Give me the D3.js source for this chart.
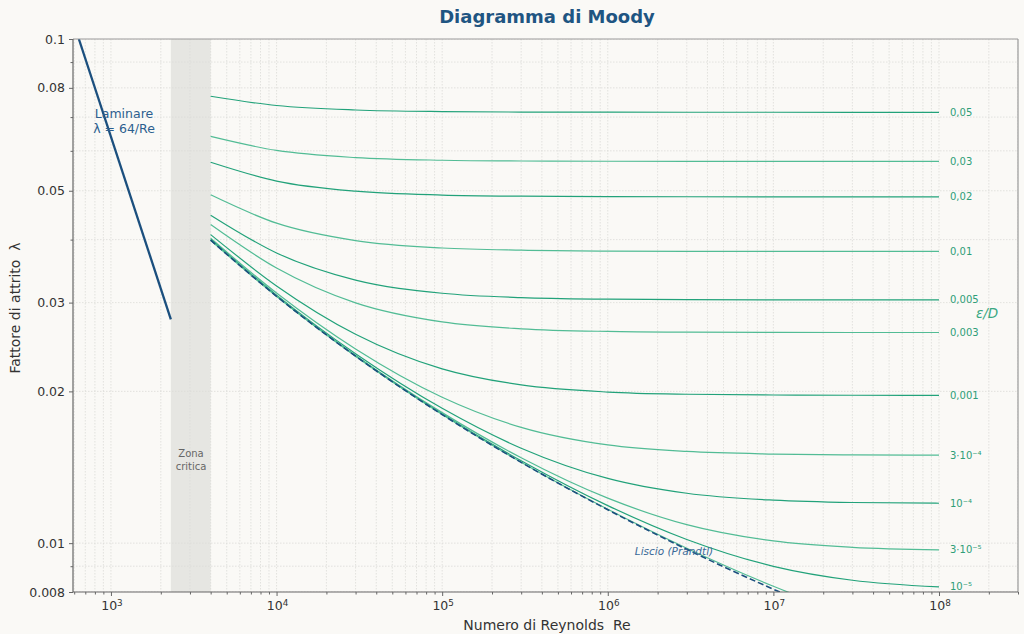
<!DOCTYPE html>
<html><head><meta charset="utf-8">
<script src="https://cdn.jsdelivr.net/npm/d3@7"></script>
<style>
body{margin:0;background:#faf9f6;}
svg{display:block;font-family:"DejaVu Sans",sans-serif;}
text{white-space:pre;}
</style></head>
<body><svg id="c" width="1024" height="634"></svg>
<script>
// ---------- data ----------
const reSamples = [4e3, 1e4, 3e4, 1e5, 3e5, 1e6, 3e6, 1e7, 3e7, 1e8];
const roughLabels = ["0,05","0,03","0,02","0,01","0,005","0,003","0,001","3·10⁻⁴","10⁻⁴","3·10⁻⁵","10⁻⁵",""];
const lam_0_05  = [0.07699,0.07380,0.07231,0.07178,0.07163,0.07158,0.07156,0.07156,0.07155,0.07155];
const lam_0_03  = [0.06408,0.06011,0.05818,0.05748,0.05728,0.05721,0.05718,0.05717,0.05717,0.05717];
const lam_0_02  = [0.05696,0.05227,0.04991,0.04903,0.04877,0.04868,0.04865,0.04864,0.04864,0.04864];
const lam_0_01  = [0.04908,0.04312,0.03982,0.03850,0.03811,0.03796,0.03792,0.03791,0.03790,0.03790];
const lam_0_005 = [0.04472,0.03763,0.03325,0.03131,0.03069,0.03047,0.03040,0.03038,0.03037,0.03037];
const lam_0_003 = [0.04286,0.03514,0.02997,0.02747,0.02662,0.02630,0.02621,0.02618,0.02617,0.02617];
const lam_0_001 = [0.04093,0.03238,0.02597,0.02217,0.02060,0.01994,0.01974,0.01967,0.01965,0.01964];
const lam_3e4   = [0.04025,0.03134,0.02427,0.01947,0.01697,0.01566,0.01520,0.01502,0.01496,0.01495];
const lam_1e4   = [0.04001,0.03104,0.02375,0.01851,0.01543,0.01344,0.01256,0.01217,0.01204,0.01200];
const lam_3e5   = [0.03995,0.03094,0.02357,0.01815,0.01477,0.01228,0.01088,0.01010,0.009811,0.009696];
const lam_1e5   = [0.03992,0.03090,0.02351,0.01804,0.01457,0.01187,0.01017,0.008996,0.008442,0.008187];
const lam_1e6   = [0.03989,0.03088,0.02349,0.01800,0.01447,0.01167,0.009769,0.008213,0.00718,0.00643];
const lamSmooth = [0.03989,0.03088,0.02349,0.01799,0.01446,0.01165,0.009721,0.008102,0.006948,0.00594];
const laminarRe = [640, 2300];
const laminarLam = [0.1, 0.0278];
const criticalZone = [2300, 4000];
const yTickLabels = [0.008, 0.01, 0.02, 0.03, 0.05, 0.08, 0.1];
const yTickText = ["0.008","0.01","0.02","0.03","0.05","0.08","0.1"];
const yMinorTicks = [0.009, 0.04, 0.06, 0.07, 0.09];
const xMajorTicks = [1e3, 1e4, 1e5, 1e6, 1e7, 1e8];
const xTickExp = ["3","4","5","6","7","8"];

const roughSeries = [lam_0_05,lam_0_03,lam_0_02,lam_0_01,lam_0_005,lam_0_003,lam_0_001,lam_3e4,lam_1e4,lam_3e5,lam_1e5,lam_1e6];

// ---------- layout ----------
const W=1024,H=634, L=73, R=1018, T=39, B=592;
const svg=d3.select("#c");
svg.append("rect").attr("width",W).attr("height",H).attr("fill","#faf9f6");
const x=d3.scaleLog().domain([590,3e8]).range([L,R]);
const y=d3.scaleLog().domain([0.008,0.1]).range([B,T]);

svg.append("defs").append("clipPath").attr("id","clip")
  .append("rect").attr("x",L).attr("y",T).attr("width",R-L).attr("height",B-T);

// critical zone
svg.append("rect").attr("x",x(criticalZone[0])).attr("y",T)
  .attr("width",x(criticalZone[1])-x(criticalZone[0])).attr("height",B-T)
  .attr("fill","#e6e6e2");

// grid
const xAll=[];
for(let e=2;e<=8;e++){for(let m=1;m<=9;m++){const v=m*Math.pow(10,e); if(v>=600&&v<=3e8) xAll.push(v);}}
const gGrid=svg.append("g").attr("clip-path","url(#clip)");
gGrid.selectAll(".gx").data(xAll).join("line")
  .attr("x1",d=>x(d)).attr("x2",d=>x(d)).attr("y1",T).attr("y2",B)
  .attr("stroke","#dcdcd8").attr("stroke-width",0.8).attr("stroke-dasharray","1.5,1.5");
gGrid.selectAll(".gy").data(yTickLabels.concat(yMinorTicks)).join("line")
  .attr("x1",L).attr("x2",R).attr("y1",d=>y(d)).attr("y2",d=>y(d))
  .attr("stroke","#dcdcd8").attr("stroke-width",0.8).attr("stroke-dasharray","1.5,1.5");

// axes
const xAxis=d3.axisBottom(x).tickValues(xMajorTicks).tickFormat("").tickSize(4);
const xMinor=d3.axisBottom(x).tickValues(xAll.filter(v=>!xMajorTicks.includes(v))).tickFormat("").tickSize(2.5);
const yAxis=d3.axisLeft(y).tickValues(yTickLabels).tickFormat((d,i)=>yTickText[i]).tickSize(4).tickPadding(4);
const yMinor=d3.axisLeft(y).tickValues(yMinorTicks).tickFormat("").tickSize(2.5);
function styleAxis(g){g.select(".domain").remove();g.selectAll("line").attr("stroke","#666");
  g.selectAll("text").attr("fill","#333").style("font-size","12.5px").style("font-family","DejaVu Sans");}
svg.append("g").attr("transform",`translate(0,${B})`).call(xAxis).call(styleAxis);
svg.append("g").attr("transform",`translate(0,${B})`).call(xMinor).call(styleAxis);
svg.append("g").attr("transform",`translate(${L},0)`).call(yAxis).call(styleAxis);
svg.append("g").attr("transform",`translate(${L},0)`).call(yMinor).call(styleAxis);
// x tick labels with superscript exponents
xMajorTicks.forEach((v,i)=>{
  const t=svg.append("text").attr("x",x(v)+1).attr("y",B+18).attr("text-anchor","middle")
    .attr("fill","#333").style("font-size","12.5px");
  t.append("tspan").text("10");
  t.append("tspan").attr("dy","-0.45em").style("font-size","8.8px").text(xTickExp[i]);
});

// curves
const gC=svg.append("g").attr("clip-path","url(#clip)");
const line=d3.line().x(d=>x(d[0])).y(d=>y(d[1])).curve(d3.curveMonotoneX);
const greens=["#22a27a","#52bc95"];
roughSeries.forEach((s,i)=>{
  gC.append("path").datum(reSamples.map((r,j)=>[r,s[j]])).attr("d",line)
    .attr("fill","none").attr("stroke",greens[i%2]).attr("stroke-width",1.2);
});
gC.append("path").datum(reSamples.map((r,j)=>[r,lamSmooth[j]])).attr("d",line)
  .attr("fill","none").attr("stroke","#1b4f7e").attr("stroke-width",1.6).attr("stroke-dasharray","6,3");
gC.append("path").datum(laminarRe.map((r,j)=>[r,laminarLam[j]])).attr("d",d3.line().x(d=>x(d[0])).y(d=>y(d[1])))
  .attr("fill","none").attr("stroke","#1b4f7e").attr("stroke-width",2.3);

// spines
svg.append("line").attr("x1",L).attr("x2",R).attr("y1",T).attr("y2",T).attr("stroke","#999").attr("stroke-width",1.2);
svg.append("line").attr("x1",R).attr("x2",R).attr("y1",T).attr("y2",B).attr("stroke","#999").attr("stroke-width",1.2);
svg.append("line").attr("x1",L).attr("x2",L).attr("y1",T).attr("y2",B).attr("stroke","#666").attr("stroke-width",1.2);
svg.append("line").attr("x1",L).attr("x2",R).attr("y1",B).attr("y2",B).attr("stroke","#666").attr("stroke-width",1.2);

// roughness labels
roughSeries.forEach((s,i)=>{
  if(!roughLabels[i]) return;
  svg.append("text").attr("x",x(1e8)+11).attr("y",y(s[s.length-1])).attr("dy","0.35em")
    .attr("fill","#2e9e78").style("font-size","10px").text(roughLabels[i]);
});
svg.append("text").attr("x",987).attr("y",313).attr("dy","0.35em").attr("text-anchor","middle")
  .attr("fill","#3aa882").style("font-size","13.5px").style("font-style","italic").text("ε/D");

// annotations
svg.append("text").attr("x",124).attr("y",114).attr("dy","0.35em").attr("text-anchor","middle")
  .attr("fill","#2c5f8f").style("font-size","12.5px").text("Laminare");
svg.append("text").attr("x",124).attr("y",129).attr("dy","0.35em").attr("text-anchor","middle")
  .attr("fill","#2c5f8f").style("font-size","12.5px").text("λ = 64/Re");
svg.append("text").attr("x",191).attr("y",453).attr("dy","0.35em").attr("text-anchor","middle")
  .attr("fill","#666").style("font-size","10px").text("Zona");
svg.append("text").attr("x",191).attr("y",466).attr("dy","0.35em").attr("text-anchor","middle")
  .attr("fill","#666").style("font-size","10px").text("critica");
svg.append("text").attr("x",674).attr("y",551).attr("dy","0.35em").attr("text-anchor","middle")
  .attr("fill","#3a6a98").style("font-size","10.5px").style("font-style","italic").text("Liscio (Prandtl)");

// titles
svg.append("text").attr("x",547).attr("y",17).attr("dy","0.35em").attr("text-anchor","middle")
  .attr("fill","#1f5582").style("font-size","18px").style("font-weight","bold").text("Diagramma di Moody");
svg.append("text").attr("x",547).attr("y",625).attr("dy","0.35em").attr("text-anchor","middle")
  .attr("fill","#333").style("font-size","14px").text("Numero di Reynolds  Re");
svg.append("text").attr("transform","translate(15,308) rotate(-90)").attr("dy","0.35em").attr("text-anchor","middle")
  .attr("fill","#333").style("font-size","14px").text("Fattore di attrito  λ");
</script></body></html>
